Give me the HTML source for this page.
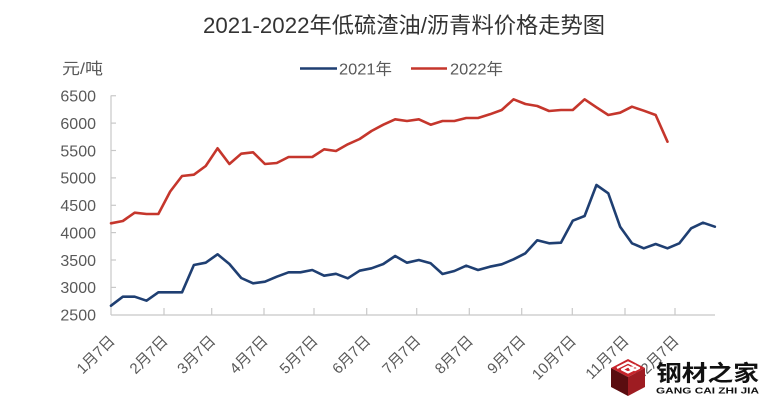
<!DOCTYPE html>
<html><head><meta charset="utf-8"><style>
html,body{margin:0;padding:0;background:#fff;}
svg{display:block;}
text{font-family:"Liberation Sans","Noto Sans CJK SC",sans-serif;}
</style></head><body>
<svg width="770" height="411" viewBox="0 0 770 411" xmlns="http://www.w3.org/2000/svg">
<rect width="770" height="411" fill="#fff"/>
<!-- Title -->
<text x="203" y="33" font-size="22" fill="#333" textLength="402" lengthAdjust="spacingAndGlyphs">2021-2022年低硫渣油/沥青料价格走势图</text>
<!-- unit -->
<text x="62" y="74" font-size="16" fill="#595959" textLength="41" lengthAdjust="spacingAndGlyphs">元/吨</text>
<!-- legend -->
<line x1="300" y1="68.5" x2="337" y2="68.5" stroke="#1f3f72" stroke-width="2.5"/>
<text x="339" y="74.5" font-size="16" fill="#595959" textLength="53" lengthAdjust="spacingAndGlyphs">2021年</text>
<line x1="411" y1="68.5" x2="447" y2="68.5" stroke="#c5362c" stroke-width="2.5"/>
<text x="450" y="74.5" font-size="16" fill="#595959" textLength="53" lengthAdjust="spacingAndGlyphs">2022年</text>

<!-- axes -->
<g stroke="#c8c8c8" stroke-width="1.2" fill="none">
<line x1="111" y1="95.5" x2="111" y2="315"/>
<line x1="111" y1="315" x2="715" y2="315"/>
<line x1="111" y1="95.75" x2="116" y2="95.75"/>
<line x1="111" y1="123.1" x2="116" y2="123.1"/>
<line x1="111" y1="150.5" x2="116" y2="150.5"/>
<line x1="111" y1="177.9" x2="116" y2="177.9"/>
<line x1="111" y1="205.3" x2="116" y2="205.3"/>
<line x1="111" y1="232.6" x2="116" y2="232.6"/>
<line x1="111" y1="260" x2="116" y2="260"/>
<line x1="111" y1="287.4" x2="116" y2="287.4"/>
<line x1="164" y1="315" x2="164" y2="308"/>
<line x1="211.7" y1="315" x2="211.7" y2="308"/>
<line x1="264" y1="315" x2="264" y2="308"/>
<line x1="314" y1="315" x2="314" y2="308"/>
<line x1="366.7" y1="315" x2="366.7" y2="308"/>
<line x1="416.7" y1="315" x2="416.7" y2="308"/>
<line x1="469.3" y1="315" x2="469.3" y2="308"/>
<line x1="521.7" y1="315" x2="521.7" y2="308"/>
<line x1="572.3" y1="315" x2="572.3" y2="308"/>
<line x1="625" y1="315" x2="625" y2="308"/>
<line x1="675" y1="315" x2="675" y2="308"/>
</g>

<!-- y labels -->
<g font-size="16" fill="#595959" text-anchor="end">
<text x="96" y="101.5">6500</text>
<text x="96" y="128.9">6000</text>
<text x="96" y="156.3">5500</text>
<text x="96" y="183.7">5000</text>
<text x="96" y="211.1">4500</text>
<text x="96" y="238.4">4000</text>
<text x="96" y="265.8">3500</text>
<text x="96" y="293.2">3000</text>
<text x="96" y="320.5">2500</text>
</g>

<!-- x labels -->
<g font-size="15" fill="#595959" text-anchor="end">
<text transform="translate(112,338) rotate(-45)" dy="0.35em">1月7日</text>
<text transform="translate(165,338) rotate(-45)" dy="0.35em">2月7日</text>
<text transform="translate(212.7,338) rotate(-45)" dy="0.35em">3月7日</text>
<text transform="translate(265,338) rotate(-45)" dy="0.35em">4月7日</text>
<text transform="translate(315,338) rotate(-45)" dy="0.35em">5月7日</text>
<text transform="translate(367.7,338) rotate(-45)" dy="0.35em">6月7日</text>
<text transform="translate(417.7,338) rotate(-45)" dy="0.35em">7月7日</text>
<text transform="translate(470.3,338) rotate(-45)" dy="0.35em">8月7日</text>
<text transform="translate(522.7,338) rotate(-45)" dy="0.35em">9月7日</text>
<text transform="translate(573.3,338) rotate(-45)" dy="0.35em">10月7日</text>
<text transform="translate(626,338) rotate(-45)" dy="0.35em">11月7日</text>
<text transform="translate(676,338) rotate(-45)" dy="0.35em">12月7日</text>
</g>

<!-- 2021 series -->
<polyline fill="none" stroke="#1f3f72" stroke-width="2.6" stroke-linejoin="round" stroke-linecap="round" points="
111,305.7 122.84,296.7 134.68,296.7 146.52,300.7 158.36,292.3 170.2,292.3 182.04,292.3 193.88,265 205.72,262.7 217.56,254.3
229.4,264 241.24,278 253.08,283.3 264.92,281.7 276.76,276.7 288.6,272.3 300.44,272.3 312.28,270 324.12,275.7 335.96,273.8
347.8,278.3 359.64,270.7 371.48,268.3 383.32,264 395.16,256 407,262.7 418.84,260 430.68,263.3 442.52,274 454.36,271
466.2,265.7 478.04,270 489.88,266.7 501.72,264.3 513.56,259.3 525.4,253.3 537.24,240.3 549.08,243.3 560.92,242.7 572.76,220.7
584.6,216 596.44,185 608.28,193.3 620.12,226.7 631.96,243.3 643.8,248.3 655.64,244 667.48,248.3 679.32,243.3 691.16,228.3
703,222.7 714.84,226.7"/>

<!-- 2022 series -->
<polyline fill="none" stroke="#c5362c" stroke-width="2.6" stroke-linejoin="round" stroke-linecap="round" points="
111,223.3 122.84,221 134.68,212.7 146.52,214 158.36,214 170.2,191.5 182.04,176 193.88,174.7 205.72,166 217.56,148.3
229.4,164 241.24,153.7 253.08,152.3 264.92,164 276.76,163 288.6,157 300.44,157 312.28,157 324.12,149.3 335.96,151
347.8,144.3 359.64,139 371.48,131 383.32,124.7 395.16,119.3 407,121 418.84,119.3 430.68,124.7 442.52,121 454.36,121
466.2,118 478.04,118 489.88,114.3 501.72,110 513.56,99.3 525.4,104 537.24,106 549.08,111 560.92,110 572.76,110
584.6,99.3 596.44,107.3 608.28,115 620.12,112.7 631.96,106.7 643.8,110.7 655.64,115 667.48,141.7"/>

<!-- logo -->
<g>
<polygon points="611,368 628,359 645,368 628,377" fill="#c8242b"/>
<path d="M617,368 L628,362.5 L639,368 L635,370 L628,366.5 L622,369.5 L628,372.5 L633,370 L630,368.5 L636,365.5" fill="none" stroke="#fff" stroke-width="2.2" stroke-linejoin="round"/>
<polygon points="611,368 628,377 628,396 611,387" fill="#5a0d10"/>
<polygon points="628,377 645,368 645,387 628,396" fill="#9e1c22"/>
<text x="656" y="381" font-size="22" font-weight="bold" fill="#111" textLength="103" lengthAdjust="spacingAndGlyphs" style="font-family:'Noto Sans CJK SC','WenQuanYi Zen Hei',sans-serif">钢材之家</text>
<text x="656" y="393.5" font-size="8.5" font-weight="bold" fill="#111" textLength="103" lengthAdjust="spacingAndGlyphs">GANG CAI ZHI JIA</text>
</g>
</svg>
</body></html>
